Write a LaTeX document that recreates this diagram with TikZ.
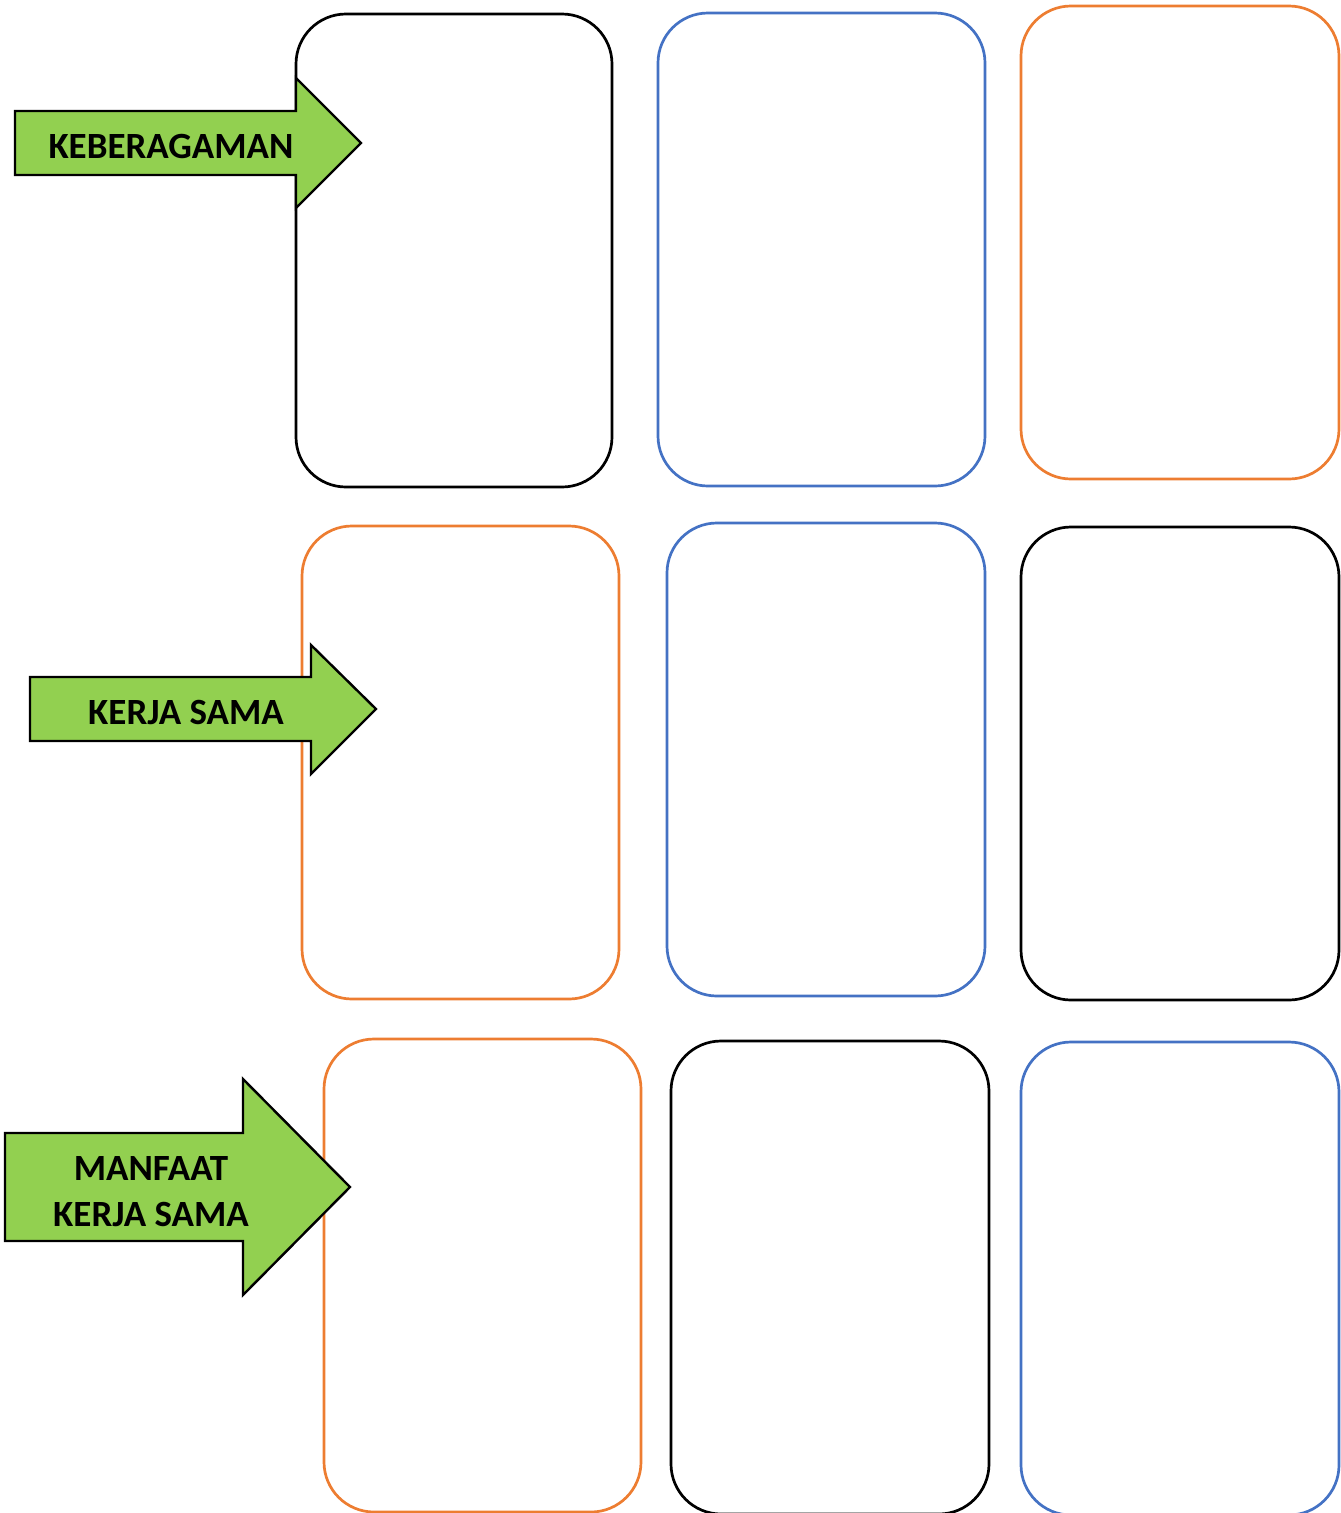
\documentclass[tikz,border=0pt]{standalone}
\usepackage{fontspec}
\setmainfont{Carlito}
\definecolor{boxblue}{HTML}{4472C4}
\definecolor{boxorange}{HTML}{ED7D31}
\definecolor{arrowgreen}{HTML}{92D050}
\begin{document}
\begin{tikzpicture}[x=1pt,y=-1pt,
  card/.style={line width=2.7pt,rounded corners=50pt},
  arrowshape/.style={draw=black,fill=arrowgreen,line width=2.4pt,line join=miter},
  label/.style={font=\fontsize{37}{46}\selectfont\bfseries,inner sep=0pt,anchor=base,align=center,text=black}]
\useasboundingbox (0,0) rectangle (1341,1513);
\begin{scope}
\clip (0,0) rectangle (1341,1513);
% row 1
\draw[card,black] (296,14) rectangle (612,487);
\draw[card,boxblue] (658,13) rectangle (985,486);
\draw[card,boxorange] (1021,6) rectangle (1339,479);
% row 2
\draw[card,boxorange] (302,526) rectangle (619,999);
\draw[card,boxblue] (667,523) rectangle (985,996);
\draw[card,black] (1021,527) rectangle (1339,1000);
% row 3
\draw[card,boxorange] (324,1039) rectangle (641,1512);
\draw[card,black] (671,1041) rectangle (989,1514);
\draw[card,boxblue] (1021,1042) rectangle (1339,1515);
\end{scope}
% arrows
\draw[arrowshape] (15,111) -- (296,111) -- (296,78) -- (361,143) -- (296,208) -- (296,175) -- (15,175) -- cycle;
\draw[arrowshape] (30,677) -- (311,677) -- (311,645) -- (376,709) -- (311,774) -- (311,741) -- (30,741) -- cycle;
\draw[arrowshape] (5,1133) -- (243,1133) -- (243,1079) -- (350,1187) -- (243,1295) -- (243,1241) -- (5,1241) -- cycle;
\node[label] (t1) at (171,158) {KEBERAGAMAN};
\node[label] (t2) at (186,724) {KERJA SAMA};
\node[label] (t3) at (151,1226) {MANFAAT\\KERJA SAMA};
\end{tikzpicture}
\end{document}
